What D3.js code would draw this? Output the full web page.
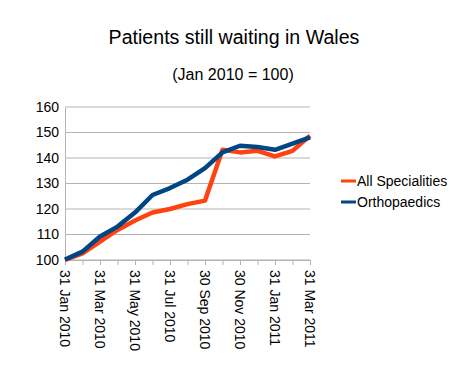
<!DOCTYPE html>
<html>
<head>
<meta charset="utf-8">
<script src="https://cdn.jsdelivr.net/npm/d3@7"></script>
<style>
  body { margin: 0; background: #fff; }
  text { font-family: "Liberation Sans", Arial, sans-serif; }
</style>
</head>
<body>
<div id="chart"></div>
<script>
var months = ["31 Jan 2010", "28 Feb 2010", "31 Mar 2010", "30 Apr 2010", "31 May 2010",
  "30 Jun 2010", "31 Jul 2010", "31 Aug 2010", "30 Sep 2010", "31 Oct 2010",
  "30 Nov 2010", "31 Dec 2010", "31 Jan 2011", "28 Feb 2011", "31 Mar 2011"];
var allSpecialities = [100, 102.6, 107.2, 111.8, 115.5, 118.6, 120, 121.9, 123.3, 143.2, 142.2, 142.8, 140.6, 142.8, 148.7];
var orthopaedics = [100.2, 103.3, 109.2, 113.1, 118.6, 125.5, 128.2, 131.5, 136, 142.2, 144.8, 144.3, 143.2, 145.6, 148.1];
var yTicks = [100, 110, 120, 130, 140, 150, 160];

var series = [
  {name: "All Specialities", values: allSpecialities, color: "#ff420e"},
  {name: "Orthopaedics", values: orthopaedics, color: "#004586"}
];

var margin = {top: 107, right: 160, bottom: 124, left: 65},
    width = 470 - margin.left - margin.right,
    height = 384 - margin.top - margin.bottom;

var svg = d3.select("#chart")
  .append("svg")
    .attr("width", 470)
    .attr("height", 384);

svg.append("text")
    .attr("x", 234)
    .attr("y", 44)
    .attr("text-anchor", "middle")
    .style("font-size", "19.6px")
    .text("Patients still waiting in Wales");

svg.append("text")
    .attr("x", 233)
    .attr("y", 80)
    .attr("text-anchor", "middle")
    .style("font-size", "16px")
    .text("(Jan 2010 = 100)");

var g = svg.append("g")
    .attr("transform", "translate(" + margin.left + "," + margin.top + ")");

var x = d3.scalePoint()
  .domain(months)
  .range([0, width]);

var y = d3.scaleLinear()
  .domain([100, 160])
  .range([height, 0]);

// grid
g.append("g")
  .selectAll("line")
  .data(yTicks)
  .enter()
  .append("line")
    .attr("x1", 0)
    .attr("x2", width)
    .attr("y1", function(d) { return y(d); })
    .attr("y2", function(d) { return y(d); })
    .attr("stroke", "#b3b3b3");

var yAxis = g.append("g")
  .call(d3.axisLeft(y).tickValues(yTicks).tickSize(0).tickPadding(6));
yAxis.select(".domain").attr("stroke", "#b3b3b3");
yAxis.selectAll("text").style("font-size", "14px").attr("fill", "#000");

var xAxis = g.append("g")
  .attr("transform", "translate(0," + height + ")")
  .call(d3.axisBottom(x).tickSize(5).tickFormat(""));
xAxis.select(".domain").attr("stroke", "#b3b3b3");
xAxis.selectAll("line").attr("stroke", "#b3b3b3");

g.append("g")
  .selectAll("text")
  .data(months.filter(function(d, i) { return i % 2 === 0; }))
  .enter()
  .append("text")
    .attr("transform", function(d) {
      return "translate(" + (x(d) - 5) + "," + (height + 10) + ")rotate(90)";
    })
    .attr("text-anchor", "start")
    .style("font-size", "14px")
    .text(function(d) { return d; });

var line = d3.line()
  .x(function(d, i) { return x(months[i]); })
  .y(function(d) { return y(d); });

g.selectAll(".series")
  .data(series)
  .enter()
  .append("path")
    .attr("fill", "none")
    .attr("stroke", function(d) { return d.color; })
    .attr("stroke-width", 4.5)
    .attr("stroke-linejoin", "round")
    .attr("d", function(d) { return line(d.values); });

var legend = svg.append("g")
  .attr("transform", "translate(341,181)");

legend.selectAll("g")
  .data(series)
  .enter()
  .append("g")
    .attr("transform", function(d, i) { return "translate(0," + (i * 21) + ")"; })
    .each(function(d) {
      d3.select(this).append("line")
        .attr("x1", 0).attr("x2", 15)
        .attr("stroke", d.color)
        .attr("stroke-width", 3);
      d3.select(this).append("text")
        .attr("x", 16)
        .attr("y", 5)
        .style("font-size", "14px")
        .text(d.name);
    });
</script>
</body>
</html>
